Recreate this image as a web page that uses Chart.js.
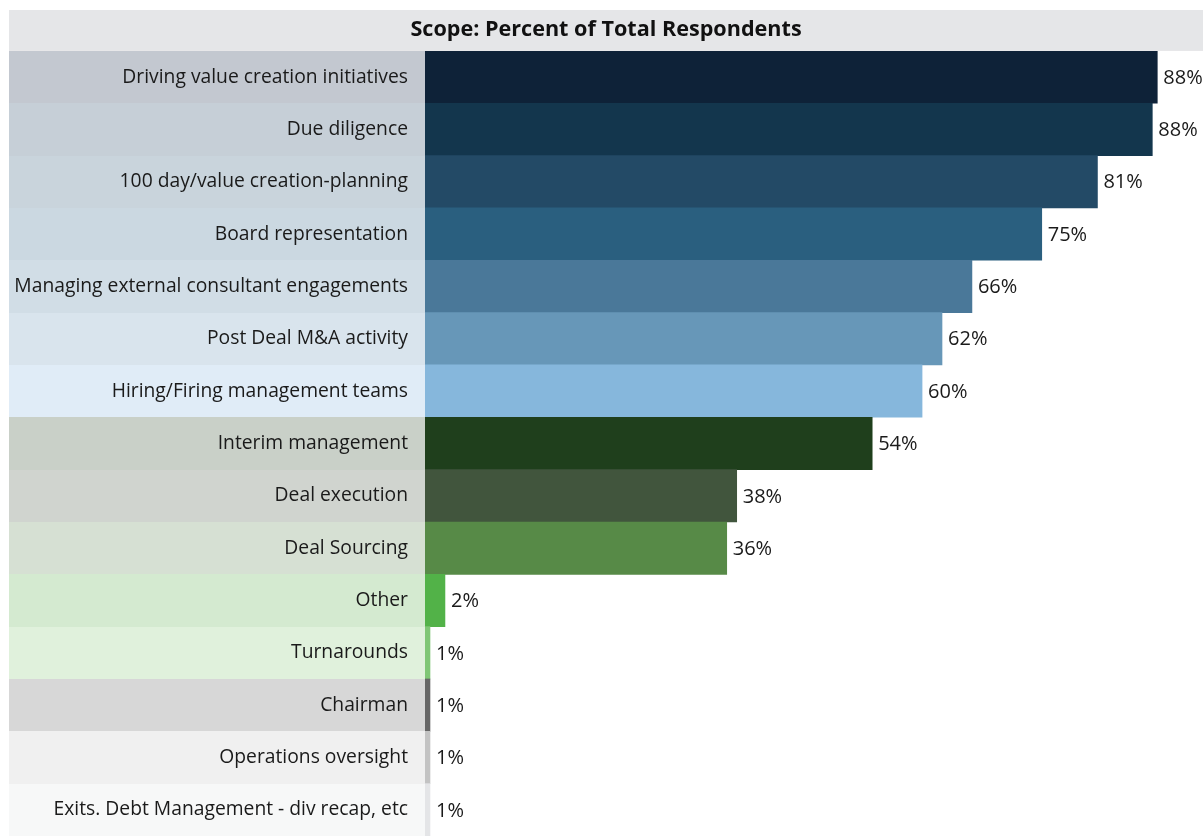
<!DOCTYPE html>
<html>
<head>
<meta charset="utf-8">
<script src="https://cdn.jsdelivr.net/npm/chart.js@4"></script>
<style>
  html, body { margin: 0; padding: 0; background: #fff; }
  #chart { position: absolute; left: 9px; top: 10px; }
</style>
</head>
<body>
<canvas id="chart" width="1194" height="826"></canvas>
<script>
const categories = [
    "Driving value creation initiatives",
    "Due diligence",
    "100 day/value creation-planning",
    "Board representation",
    "Managing external consultant engagements",
    "Post Deal M&A activity",
    "Hiring/Firing management teams",
    "Interim management",
    "Deal execution",
    "Deal Sourcing",
    "Other",
    "Turnarounds",
    "Chairman",
    "Operations oversight",
    "Exits. Debt Management - div recap, etc"
];
const values = [88.1, 87.5, 80.9, 74.2, 65.8, 62.2, 59.8, 53.8, 37.5, 36.3, 2.4, 0.6, 0.6, 0.6, 0.6];
const shownPct = [88, 88, 81, 75, 66, 62, 60, 54, 38, 36, 2, 1, 1, 1, 1];

const barColors = [
    "#0e2238", "#13364d", "#234a66", "#2a5f7f", "#4a7899", "#6797b8", "#86b7dc",
    "#1f3f1c", "#41553d", "#578a47", "#52b248", "#7fc675",
    "#666666", "#c3c3c3", "#e4e5e7"
];
const labelBgColors = [
    "#c3c8d0", "#c6cfd7", "#c9d4dc", "#cbd8e1", "#d1dde6", "#d9e4ed", "#e0ecf7",
    "#c9d0c8", "#d0d4cf", "#d6e0d3", "#d4ead0", "#e0f1dc",
    "#d7d7d7", "#f0f0f0", "#f7f8f8"
];

const fontFamily = "'Open Sans', 'Noto Sans', sans-serif";

// gray title strip + coloured label cells behind the y tick labels
const backgrounds = {
    id: "backgrounds",
    beforeDraw(chart) {
        const { ctx, chartArea, scales } = chart;
        ctx.save();
        ctx.fillStyle = "#e5e6e8";
        ctx.fillRect(0, 0, chart.width, chartArea.top);
        const rowH = (chartArea.bottom - chartArea.top) / categories.length;
        categories.forEach((c, i) => {
            const yc = scales.y.getPixelForValue(i);
            ctx.fillStyle = labelBgColors[i];
            ctx.fillRect(0, Math.round(yc - rowH / 2), chartArea.left, Math.ceil(rowH) + 1);
        });
        ctx.restore();
    }
};

const valueLabels = {
    id: "valueLabels",
    afterDatasetsDraw(chart) {
        const { ctx } = chart;
        const meta = chart.getDatasetMeta(0);
        ctx.save();
        ctx.font = "20px " + fontFamily;
        ctx.fillStyle = "#1a1a1a";
        ctx.textAlign = "left";
        ctx.textBaseline = "middle";
        meta.data.forEach((bar, i) => {
            ctx.fillText(shownPct[i] + "%", bar.x + 6, bar.y + 1);
        });
        ctx.restore();
    }
};

new Chart(document.getElementById("chart"), {
    type: "bar",
    data: {
        labels: categories,
        datasets: [
            {
                data: values,
                backgroundColor: barColors,
                borderWidth: 0,
                barPercentage: 1,
                categoryPercentage: 1,
            },
        ],
    },
    options: {
        indexAxis: "y",
        responsive: false,
        animation: false,
        layout: { padding: 0 },
        plugins: {
            legend: { display: false },
            tooltip: { enabled: false },
            title: {
                display: true,
                text: "Scope: Percent of Total Respondents",
                color: "#111",
                font: { family: fontFamily, size: 21.6, weight: "bold", lineHeight: 1.2 },
                padding: { top: 7, bottom: 8 },
            },
        },
        scales: {
            x: {
                display: false,
                min: 0,
                max: 93.6,
            },
            y: {
                grid: { display: false, drawTicks: false },
                border: { display: false },
                ticks: {
                    color: "#1a1a1a",
                    padding: 17,
                    font: { family: fontFamily, size: 19.3 },
                },
                afterFit(scale) {
                    scale.width = 416;
                    scale.paddingTop = 0;
                    scale.paddingBottom = 0;
                },
            },
        },
    },
    plugins: [backgrounds, valueLabels],
});
</script>
</body>
</html>
